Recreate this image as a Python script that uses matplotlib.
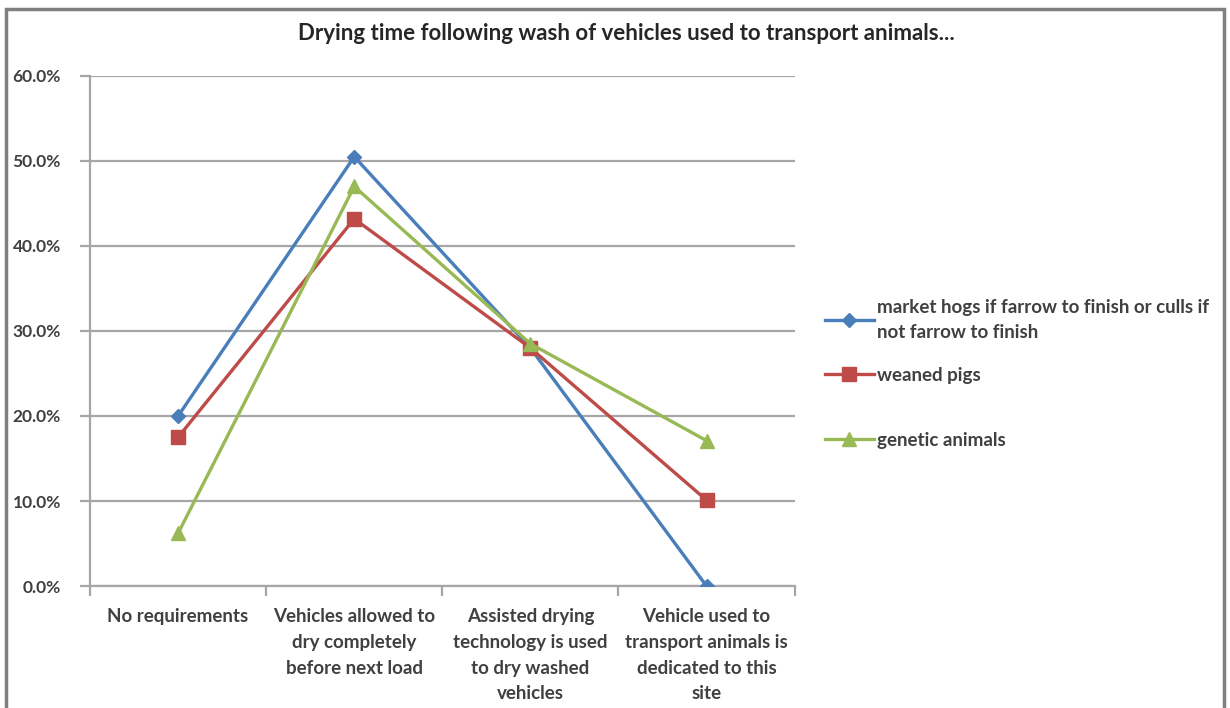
import matplotlib.pyplot as plt
import numpy as np
from matplotlib.patches import Rectangle

# Chart data
categories = ["No requirements",
              "Vehicles allowed to\ndry completely\nbefore next load",
              "Assisted drying\ntechnology is used\nto dry washed\nvehicles",
              "Vehicle used to\ntransport animals is\ndedicated to this\nsite"]
series_names = ["market hogs if farrow to finish or culls if\nnot farrow to finish",
                "weaned pigs",
                "genetic animals"]
market_hogs = [20.0, 50.5, 28.0, 0.0]
weaned_pigs = [17.5, 43.2, 28.0, 10.1]
genetic_animals = [6.2, 47.0, 28.5, 17.1]
y_ticks = [0, 10, 20, 30, 40, 50, 60]

plt.rcParams['font.family'] = ['Lato', 'DejaVu Sans']

fig = plt.figure(figsize=(12.3, 7.08), dpi=100)
ax = fig.add_axes([0.0732, 0.1723, 0.5728, 0.7204])

x = np.arange(len(categories))
l1, = ax.plot(x, market_hogs, color='#4a7ebb', lw=2.4, marker='D', ms=7,
              label=series_names[0], zorder=3)
l2, = ax.plot(x, weaned_pigs, color='#be4b48', lw=2.4, marker='s', ms=9.5,
              label=series_names[1], zorder=3)
l3, = ax.plot(x, genetic_animals, color='#98b954', lw=2.4, marker='^', ms=10.5,
              label=series_names[2], zorder=3)

ax.set_xlim(-0.5, len(categories) - 0.5)
ax.set_ylim(0, 60)
ax.set_yticks(y_ticks)
ax.set_yticklabels([f"{v:.1f}%" for v in y_ticks], fontsize=12.5, fontweight='bold',
                   color='#404040')
ax.yaxis.grid(True, color='#a6a6a6', lw=1.6)
ax.set_axisbelow(True)

# category labels centred, tick marks between categories
ax.set_xticks(x)
ax.set_xticklabels(categories, fontsize=13.5, fontweight='bold', color='#404040',
                   linespacing=1.62)
ax.tick_params(axis='x', length=0, pad=16)
ax.set_xticks(np.arange(-0.5, len(categories)), minor=True)
ax.tick_params(axis='x', which='minor', length=7, width=1.6, color='#a6a6a6',
               direction='out')
ax.tick_params(axis='y', length=7, width=1.6, color='#a6a6a6', pad=14)

for side in ['top', 'right']:
    ax.spines[side].set_visible(False)
for side in ['left', 'bottom']:
    ax.spines[side].set_color('#a6a6a6')
    ax.spines[side].set_linewidth(1.6)

fig.text(0.509, 0.953, "Drying time following wash of vehicles used to transport animals...",
         ha='center', va='center', fontsize=16, fontweight='bold', color='#262626')

# legend: one entry each, spaced like the original
legend_y = [320, 375, 440]
for line, name, ypx in zip([l1, l2, l3], series_names, legend_y):
    leg = fig.legend([line], [name], loc='center left',
                     bbox_to_anchor=(0.6707, 1 - ypx / 708), frameon=False,
                     fontsize=13.5, handlelength=2.6, handletextpad=0.15,
                     borderaxespad=0, borderpad=0)
    for t in leg.get_texts():
        t.set_fontweight('bold')
        t.set_color('#404040')
        t.set_linespacing(1.55)

# outer chart border
fig.patches.append(Rectangle((0.005, -0.02), 0.99, 1.007, transform=fig.transFigure,
                             fill=False, edgecolor='#7f7f7f', lw=2.5))

fig.savefig('out.png', dpi=100)
